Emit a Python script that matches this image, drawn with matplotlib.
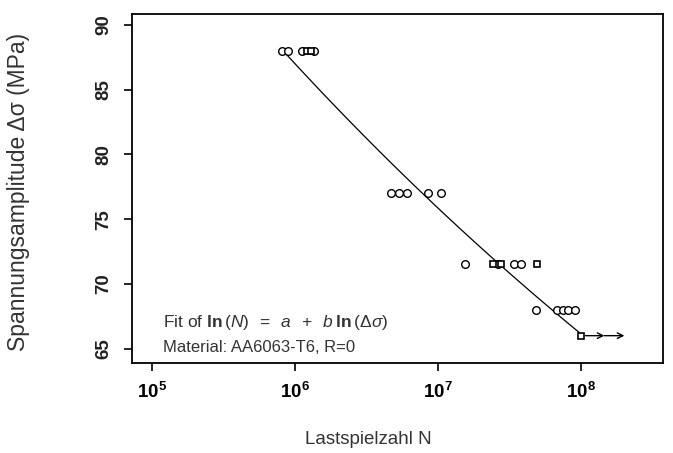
import numpy as np
import matplotlib
matplotlib.use("Agg")
import matplotlib.pyplot as plt

plt.rcParams['font.family'] = ['Liberation Sans', 'DejaVu Sans']
plt.rcParams['mathtext.fontset'] = 'custom'
plt.rcParams['mathtext.rm'] = 'Liberation Sans'
plt.rcParams['mathtext.it'] = 'Liberation Sans:italic'
plt.rcParams['mathtext.bf'] = 'Liberation Sans:bold'

# failure points (circles)
circ_N = [8.1e5, 8.9e5, 1.12e6, 1.36e6,
          4.7e6, 5.3e6, 6.1e6, 8.5e6, 1.05e7,
          1.55e7, 2.6e7, 3.4e7, 3.8e7,
          4.8e7, 6.8e7, 7.4e7, 8.1e7, 9.1e7]
circ_S = [88, 88, 88, 88,
          77, 77, 77, 77, 77,
          71.5, 71.5, 71.5, 71.5,
          68, 68, 68, 68, 68]
# square points
sq_N = [1.22e6, 1.3e6, 2.4e7, 2.75e7, 4.9e7, 1.0e8]
sq_S = [88, 88, 71.5, 71.5, 71.5, 66]
# runout arrow
run_start = [1.0e8]
run_mid = [1.45e8]
run_end = [2.0e8]
run_S = [66]
# fit parameters ln(N) = a + b ln(dS)
fit_a = 88.71
fit_b = -16.77
fit_S_range = [88.1, 66.0]

xticks = [1e5, 1e6, 1e7, 1e8]
xticklabels = [r'$\mathbf{10^5}$', r'$\mathbf{10^6}$', r'$\mathbf{10^7}$', r'$\mathbf{10^8}$']
yticks = [65, 70, 75, 80, 85, 90]

fig = plt.figure(figsize=(6.73, 4.53), dpi=100)
ax = fig.add_axes([0.196, 0.199, 0.789, 0.770])

S_line = np.linspace(fit_S_range[0], fit_S_range[1], 100)
N_line = np.exp(fit_a + fit_b * np.log(S_line))
ax.plot(N_line, S_line, color='black', lw=0.9, zorder=1)

ax.plot(circ_N, circ_S, linestyle='none', marker='o', ms=5.5, mfc='white',
        mec='black', mew=1.0, zorder=3)
ax.plot(sq_N, sq_S, linestyle='none', marker='s', ms=5, mfc='white',
        mec='black', mew=1.2, zorder=3)

for s0, m, e, s in zip(run_start, run_mid, run_end, run_S):
    ax.annotate('', xy=(m, s), xytext=(s0, s),
                arrowprops=dict(arrowstyle='->', color='black', lw=1.0,
                                shrinkA=3, shrinkB=0))
    ax.annotate('', xy=(e, s), xytext=(m, s),
                arrowprops=dict(arrowstyle='->', color='black', lw=1.0,
                                shrinkA=0, shrinkB=0))

ax.set_xscale('log')
ax.set_xlim(10**4.86, 10**8.57)
ax.set_ylim(63.9, 90.85)
ax.set_xticks(xticks)
ax.set_xticklabels(xticklabels)
ax.xaxis.set_minor_locator(matplotlib.ticker.NullLocator())
ax.set_yticks(yticks)
ax.tick_params(axis='both', direction='out', length=6, width=1.2, labelsize=13.5,
               colors='black', pad=8)
for lab in ax.get_yticklabels():
    lab.set_rotation(90)
    lab.set_va('center')
    lab.set_fontweight('bold')
    lab.set_color('#222222')
for sp in ax.spines.values():
    sp.set_linewidth(1.3)

ax.text(0.058, 0.115,
        r'Fit of $\mathbf{ln}\,(N)\;\;=\;\;a\;\;+\;\;b\;\mathbf{ln}\,(\Delta\sigma)$',
        transform=ax.transAxes, fontsize=12.5, color='#333333', va='center')
ax.text(0.058, 0.045, 'Material: AA6063-T6, R=0',
        transform=ax.transAxes, fontsize=12, color='#333333', va='center')

fig.text(0.027, 0.577, 'Spannungsamplitude Δσ (MPa)', rotation=90,
         fontsize=16.5, color='#333333', ha='center', va='center')
fig.text(0.547, 0.029, 'Lastspielzahl N', fontsize=13.5, color='#333333',
         ha='center', va='center')

fig.savefig('out.png', dpi=100)
